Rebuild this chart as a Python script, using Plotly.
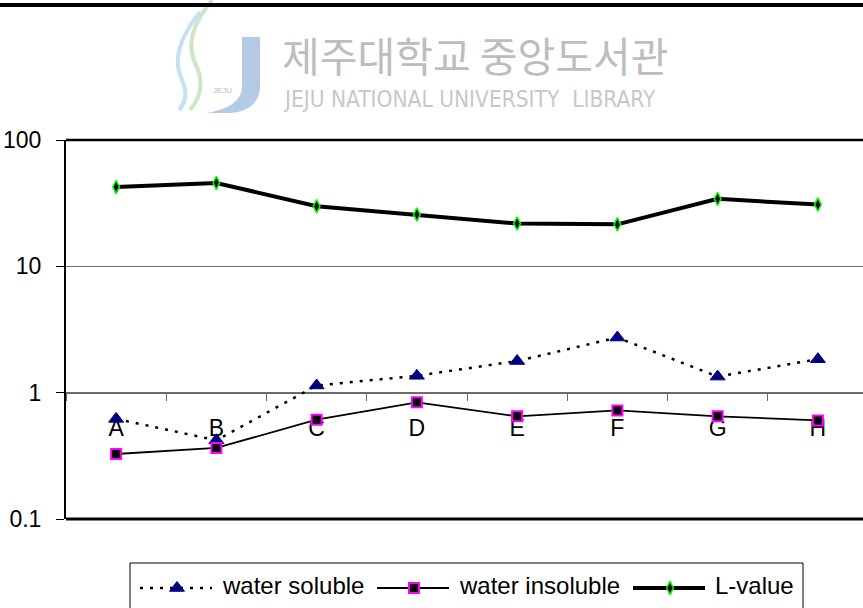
import plotly.graph_objects as go

# ---- data ----
categories = ["A", "B", "C", "D", "E", "F", "G", "H"]
water_soluble = [0.62, 0.42, 1.14, 1.36, 1.78, 2.73, 1.34, 1.84]
water_insoluble = [0.327, 0.365, 0.611, 0.838, 0.650, 0.724, 0.650, 0.603]
l_value = [42.5, 45.7, 29.9, 25.7, 21.8, 21.5, 34.2, 30.8]
series_names = ["water soluble", "water insoluble", "L-value"]
y_tick_vals = [0.1, 1, 10, 100]
y_tick_text = ["0.1", "1", "10", "100"]

# ---- layout geometry (pixels) ----
W, H = 863, 608
plot_left, plot_top, plot_bottom = 66, 140, 519
x_dom = [plot_left / W, 1.0]
y_dom = [1 - plot_bottom / H, 1 - plot_top / H]
y_range = [-1, 2]
# the category axis crosses the value axis at 1
x_axis_pos = y_dom[0] + (y_dom[1] - y_dom[0]) * (0 - y_range[0]) / (y_range[1] - y_range[0])

FONT = "Liberation Sans, Arial, sans-serif"

styles = [
    dict(line=dict(color="black", width=2.5, dash="3px,7px"),
         marker=dict(symbol="triangle-up", size=13, color="#000080",
                     line=dict(color="#000080", width=1))),
    dict(line=dict(color="black", width=1.8),
         marker=dict(symbol="square", size=10, color="black",
                     line=dict(color="#ff00ff", width=2))),
    dict(line=dict(color="black", width=4),
         marker=dict(symbol="diamond-tall", size=9.5, color="black",
                     line=dict(color="#00ff00", width=1.5))),
]

fig = go.Figure()
for name, vals, st in zip(series_names, [water_soluble, water_insoluble, l_value], styles):
    fig.add_trace(go.Scatter(x=categories, y=vals, name=name, mode="lines+markers",
                             line=st["line"], marker=st["marker"], showlegend=False,
                             cliponaxis=False))

# ---- legend drawn on a full-figure pixel overlay (x2/y2) ----
legend_starts = [140, 377, 633]
legend_y = 588
for name, s, st in zip(series_names, legend_starts, styles):
    fig.add_trace(go.Scatter(x=[s, s + 72], y=[legend_y, legend_y], mode="lines",
                             line=st["line"], xaxis="x2", yaxis="y2",
                             showlegend=False, hoverinfo="skip"))
    fig.add_trace(go.Scatter(x=[s + 37], y=[legend_y], mode="markers",
                             marker=st["marker"], xaxis="x2", yaxis="y2",
                             showlegend=False, hoverinfo="skip"))

annotations = []
for name, s in zip(series_names, legend_starts):
    annotations.append(dict(x=s + 80, y=585, xref="x2", yref="y2", text=name,
                            showarrow=False, xanchor="left", yanchor="middle",
                            font=dict(family=FONT, size=24, color="black")))

# library header
annotations.append(dict(x=280, y=54, xref="x2", yref="y2", text="제주대학교 중앙도서관",
                        showarrow=False, xanchor="left", yanchor="middle",
                        font=dict(family="Noto Sans CJK KR", size=41, color="#bdbdbd")))
annotations.append(dict(x=281, y=99, xref="x2", yref="y2",
                        text="JEJU NATIONAL UNIVERSITY&nbsp;&nbsp;LIBRARY",
                        showarrow=False, xanchor="left", yanchor="middle",
                        font=dict(family="Liberation Sans Narrow, DejaVu Sans Condensed, sans-serif",
                                  size=22.5, color="#c8c8c8")))
annotations.append(dict(x=222, y=90, xref="x2", yref="y2", text="JEJU",
                        showarrow=False, xanchor="center", yanchor="middle",
                        font=dict(family=FONT, size=8, color="#b8bccb")))

shapes = [
    # top rule
    dict(type="rect", xref="x2", yref="y2", x0=0, x1=W, y0=3, y1=7,
         fillcolor="black", line=dict(width=0), layer="above"),
    # logo
    dict(type="path", xref="x2", yref="y2",
         path="M 242,37 L 260,37 L 260,86 C 260,104 246,113 228,113 L 206,113 "
              "C 226,110 242,102 242,86 Z",
         fillcolor="#b5cae6", line=dict(width=0), layer="below"),
    dict(type="path", xref="x2", yref="y2",
         path="M 212,0 C 192,25 186,45 196,65 C 204,82 201,97 190,110",
         line=dict(color="#cfe6c6", width=4), layer="below"),
    dict(type="path", xref="x2", yref="y2",
         path="M 200,12 C 180,37 172,60 182,80 C 188,93 186,102 179,110",
         line=dict(color="#c3e1f0", width=4), layer="below"),
    # plot area top and bottom borders
    dict(type="line", xref="x domain", yref="y domain", x0=0, x1=1, y0=1, y1=1,
         line=dict(color="black", width=2.5), layer="above"),
    dict(type="line", xref="x domain", yref="y domain", x0=0, x1=1, y0=0, y1=0,
         line=dict(color="black", width=3), layer="above"),
    # legend box
    dict(type="rect", xref="x2", yref="y2", x0=130, x1=803, y0=563, y1=640,
         line=dict(color="black", width=1), fillcolor="rgba(0,0,0,0)", layer="below"),
]

fig.update_layout(
    width=W, height=H,
    margin=dict(l=0, r=0, t=0, b=0, autoexpand=False),
    paper_bgcolor="white", plot_bgcolor="rgba(0,0,0,0)",
    font=dict(family=FONT, color="black"),
    xaxis=dict(domain=x_dom, type="category", range=[-0.5, 7.45],
               anchor="free", position=x_axis_pos, automargin=False,
               showline=True, linecolor="#666", linewidth=1,
               ticks="outside", tickson="boundaries", ticklen=7,
               tickcolor="#666", tickwidth=1, showgrid=False, zeroline=False,
               tickfont=dict(family=FONT, size=23, color="black"),
               ticklabelstandoff=15, layer="below traces"),
    yaxis=dict(domain=y_dom, type="log", range=y_range, anchor="x", automargin=False,
               tickvals=y_tick_vals, ticktext=y_tick_text,
               showline=True, linecolor="black", linewidth=2,
               ticks="outside", ticklen=8, tickcolor="black", tickwidth=1,
               showgrid=True, gridcolor="#6e6e6e", gridwidth=1, zeroline=False,
               tickfont=dict(family=FONT, size=23, color="black"),
               ticklabelstandoff=10),
    xaxis2=dict(domain=[0, 1], range=[0, W], visible=False, anchor="y2",
                fixedrange=True, automargin=False),
    yaxis2=dict(domain=[0, 1], range=[H, 0], visible=False, anchor="x2",
                fixedrange=True, automargin=False),
    annotations=annotations,
    shapes=shapes,
    showlegend=False,
)

fig.write_html("out.html")
